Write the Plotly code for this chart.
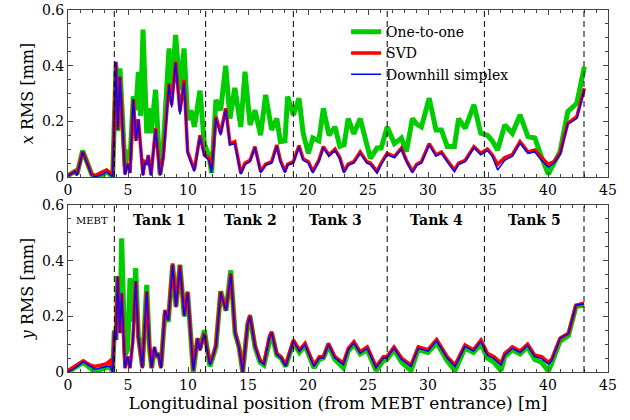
import plotly.graph_objects as go

# ---------------- data ----------------
x_top = [0.0, 0.58, 0.75, 1.22, 1.97, 2.25, 2.97, 3.22, 3.5, 3.72,
         4.0, 4.14, 4.33, 4.75, 4.97, 5.17, 5.44, 5.67, 5.86, 6.05,
         6.25, 6.4, 6.56, 6.69, 6.92, 7.3, 7.67, 7.94, 8.42, 8.64,
         8.97, 9.33, 9.67, 9.97, 10.25, 10.53, 11.0, 11.36, 11.75, 11.97,
         12.33, 12.72, 13.14, 13.5, 13.9, 14.4, 14.75, 15.17, 15.58, 16.05,
         16.47, 16.97, 17.4, 17.7, 18.08, 18.3, 18.78, 19.25, 19.6, 20.03,
         20.4, 20.9, 21.28, 21.75, 22.25, 22.65, 23.0, 23.35, 23.82, 24.35,
         24.9, 25.2, 25.75, 26.1, 26.6, 27.2, 27.78, 28.2, 28.7, 29.06,
         29.45, 30.1, 30.67, 31.12, 31.6, 32.2, 32.55, 33.1, 33.83, 34.4,
         34.95, 35.35, 35.8, 36.4, 37.03, 37.67, 38.33, 38.9, 39.45, 40.03,
         40.5, 41.0, 41.65, 42.4, 43.03]
one_top = [0.005, 0.02, 0.01, 0.095, 0.01, 0.0, 0.01, 0.02, 0.01, 0.0,
           0.40, 0.165, 0.39, 0.037, 0.097, 0.06, 0.29, 0.24, 0.378, 0.22,
           0.53, 0.30, 0.157, 0.247, 0.157, 0.313, 0.01, 0.109, 0.462, 0.313,
           0.51, 0.313, 0.462, 0.205, 0.24, 0.18, 0.31, 0.12, 0.075, 0.014,
           0.277, 0.24, 0.40, 0.21, 0.32, 0.18, 0.378, 0.187, 0.24, 0.15,
           0.295, 0.169, 0.21, 0.127, 0.13, 0.289, 0.223, 0.283, 0.157, 0.085,
           0.14, 0.13, 0.247, 0.15, 0.18, 0.11, 0.115, 0.21, 0.155, 0.21,
           0.12, 0.067, 0.104, 0.104, 0.18, 0.12, 0.14, 0.091, 0.21, 0.19,
           0.18, 0.283, 0.169, 0.169, 0.11, 0.11, 0.21, 0.175, 0.259, 0.157,
           0.15, 0.13, 0.097, 0.187, 0.157, 0.223, 0.145, 0.14, 0.073, 0.01,
           0.05, 0.09, 0.235, 0.265, 0.396]
svd_top = [0.005, 0.02, 0.01, 0.092, 0.01, 0.005, 0.02, 0.025, 0.015, 0.005,
           0.414, 0.17, 0.36, 0.01, 0.05, 0.015, 0.28, 0.13, 0.208, 0.10,
           0.007, 0.055, 0.05, 0.079, 0.007, 0.175, 0.007, 0.073, 0.337, 0.259,
           0.414, 0.235, 0.349, 0.091, 0.061, 0.025, 0.15, 0.079, 0.067, 0.03,
           0.217, 0.157, 0.247, 0.12, 0.127, 0.014, 0.05, 0.06, 0.109, 0.02,
           0.046, 0.055, 0.115, 0.06, 0.02, 0.046, 0.055, 0.113, 0.065, 0.055,
           0.02, 0.06, 0.109, 0.079, 0.10, 0.07, 0.02, 0.046, 0.055, 0.09,
           0.055, 0.05, 0.02, 0.05, 0.085, 0.073, 0.104, 0.06, 0.02, 0.046,
           0.055, 0.12, 0.079, 0.09, 0.06, 0.025, 0.05, 0.06, 0.109, 0.085,
           0.10, 0.08, 0.045, 0.07, 0.08, 0.127, 0.09, 0.097, 0.07, 0.046,
           0.055, 0.085, 0.193, 0.217, 0.319]
dhs_top = [0.003, 0.02, 0.005, 0.09, 0.008, 0.0, 0.01, 0.02, 0.008, 0.0,
           0.414, 0.17, 0.36, 0.007, 0.045, 0.014, 0.28, 0.13, 0.205, 0.09,
           0.005, 0.05, 0.045, 0.075, 0.005, 0.17, 0.005, 0.07, 0.33, 0.25,
           0.41, 0.225, 0.34, 0.085, 0.055, 0.02, 0.145, 0.075, 0.06, 0.015,
           0.21, 0.15, 0.24, 0.115, 0.12, 0.01, 0.045, 0.055, 0.105, 0.015,
           0.042, 0.05, 0.11, 0.055, 0.015, 0.042, 0.05, 0.108, 0.06, 0.05,
           0.015, 0.055, 0.105, 0.075, 0.095, 0.065, 0.015, 0.042, 0.05, 0.085,
           0.05, 0.045, 0.015, 0.045, 0.08, 0.07, 0.10, 0.055, 0.015, 0.042,
           0.05, 0.115, 0.075, 0.085, 0.055, 0.02, 0.045, 0.055, 0.105, 0.08,
           0.095, 0.075, 0.025, 0.06, 0.075, 0.122, 0.085, 0.09, 0.06, 0.035,
           0.05, 0.08, 0.19, 0.21, 0.315]

x_bot = [0.0, 0.58, 0.8, 1.28, 1.83, 2.25, 2.8, 3.22, 3.5, 3.72,
         3.86, 4.0, 4.14, 4.33, 4.47, 4.75, 4.97, 5.17, 5.4, 5.64,
         5.86, 6.2, 6.56, 6.78, 6.97, 7.2, 7.39, 7.53, 7.75, 8.08,
         8.36, 8.72, 9.0, 9.33, 9.69, 9.97, 10.44, 10.8, 11.0, 11.36,
         11.83, 12.05, 12.33, 12.72, 13.17, 13.56, 13.92, 14.25, 14.56, 14.97,
         15.17, 15.58, 16.0, 16.33, 16.78, 16.97, 17.4, 17.75, 18.14, 18.78,
         19.28, 19.75, 20.5, 20.94, 21.28, 21.7, 22.25, 22.94, 23.36, 23.83,
         24.35, 24.94, 25.67, 26.28, 26.56, 27.17, 27.8, 28.58, 29.19, 30.0,
         30.72, 31.6, 32.25, 33.08, 33.78, 34.42, 34.95, 35.5, 36.08, 36.4,
         37.03, 37.67, 38.3, 38.9, 39.47, 40.03, 40.3, 41.0, 41.7, 42.33,
         43.0]
one_bot = [0.0, 0.015, 0.02, 0.035, 0.015, 0.0, 0.01, 0.015, 0.02, 0.0,
           0.15, 0.115, 0.345, 0.14, 0.48, 0.06, 0.08, 0.337, 0.18, 0.373,
           0.13, 0.02, 0.313, 0.09, 0.014, 0.08, 0.05, 0.07, 0.02, 0.21,
           0.18, 0.385, 0.235, 0.385, 0.20, 0.285, 0.0, 0.12, 0.085, 0.15,
           0.02, 0.05, 0.09, 0.29, 0.22, 0.365, 0.14, 0.09, 0.0, 0.17,
           0.20, 0.09, 0.035, 0.025, 0.12, 0.14, 0.06, 0.05, 0.02, 0.105,
           0.07, 0.095, 0.015, 0.045, 0.05, 0.095, 0.045, 0.015, 0.075, 0.10,
           0.065, 0.08, 0.005, 0.04, 0.045, 0.08, 0.035, 0.005, 0.08, 0.07,
           0.105, 0.04, 0.005, 0.085, 0.07, 0.10, 0.05, 0.035, 0.005, 0.055,
           0.08, 0.065, 0.09, 0.045, 0.035, 0.003, 0.03, 0.11, 0.13, 0.235,
           0.24]
svd_bot = [0.005, 0.02, 0.025, 0.04, 0.025, 0.02, 0.025, 0.03, 0.04, 0.005,
           0.145, 0.115, 0.343, 0.14, 0.283, 0.014, 0.055, 0.014, 0.109, 0.327,
           0.127, 0.014, 0.289, 0.097, 0.014, 0.09, 0.055, 0.065, 0.014, 0.223,
           0.187, 0.39, 0.235, 0.385, 0.205, 0.289, 0.007, 0.122, 0.079, 0.14,
           0.03, 0.055, 0.097, 0.289, 0.223, 0.355, 0.145, 0.091, 0.0, 0.175,
           0.205, 0.097, 0.043, 0.032, 0.127, 0.145, 0.067, 0.055, 0.025, 0.115,
           0.079, 0.103, 0.025, 0.055, 0.055, 0.103, 0.055, 0.032, 0.085, 0.109,
           0.073, 0.09, 0.02, 0.055, 0.055, 0.09, 0.05, 0.025, 0.09, 0.08,
           0.117, 0.055, 0.025, 0.097, 0.08, 0.115, 0.067, 0.055, 0.032, 0.067,
           0.09, 0.075, 0.10, 0.06, 0.055, 0.035, 0.045, 0.121, 0.139, 0.24,
           0.247]
dhs_bot = [0.0, 0.015, 0.02, 0.037, 0.02, 0.01, 0.015, 0.02, 0.02, 0.0,
           0.145, 0.115, 0.343, 0.14, 0.283, 0.014, 0.055, 0.014, 0.109, 0.327,
           0.127, 0.014, 0.289, 0.097, 0.014, 0.09, 0.055, 0.065, 0.014, 0.22,
           0.185, 0.385, 0.232, 0.38, 0.2, 0.285, 0.005, 0.12, 0.077, 0.137,
           0.025, 0.05, 0.093, 0.285, 0.22, 0.35, 0.14, 0.087, 0.0, 0.17,
           0.2, 0.093, 0.038, 0.028, 0.123, 0.14, 0.062, 0.05, 0.02, 0.11,
           0.075, 0.098, 0.02, 0.05, 0.05, 0.098, 0.05, 0.027, 0.08, 0.104,
           0.068, 0.085, 0.015, 0.05, 0.05, 0.085, 0.045, 0.02, 0.085, 0.075,
           0.112, 0.05, 0.02, 0.092, 0.075, 0.11, 0.06, 0.048, 0.025, 0.06,
           0.085, 0.07, 0.095, 0.055, 0.048, 0.028, 0.04, 0.12, 0.138, 0.24,
           0.245]

section_edges = [3.86, 11.47, 18.78, 26.6, 34.7, 43.0]
section_names = ["MEBT", "Tank 1", "Tank 2", "Tank 3", "Tank 4", "Tank 5"]
section_centers = [1.97, 7.64, 15.2, 22.3, 30.7, 38.9]

series_names = ["One-to-one", "SVD", "Downhill simplex"]
series_colors = ["#00cc00", "#ff0000", "#0000ff"]
series_widths = [5, 3.5, 1.5]

# ---------------- figure ----------------
FONT = "DejaVu Serif"
fig = go.Figure()

top = [one_top, svd_top, dhs_top]
bot = [one_bot, svd_bot, dhs_bot]
for i in range(3):
    fig.add_trace(go.Scatter(x=x_top, y=top[i], mode="lines", name=series_names[i],
                             line=dict(color=series_colors[i], width=series_widths[i]),
                             xaxis="x", yaxis="y", showlegend=True))
for i in range(3):
    fig.add_trace(go.Scatter(x=x_bot, y=bot[i], mode="lines", name=series_names[i],
                             line=dict(color=series_colors[i], width=series_widths[i]),
                             xaxis="x2", yaxis="y2", showlegend=False))

shapes = []
for xe in section_edges:
    for yr, xr in (("y domain", "x"), ("y2 domain", "x2")):
        shapes.append(dict(type="line", xref=xr, yref=yr, x0=xe, x1=xe, y0=0, y1=1,
                           line=dict(color="black", width=1, dash="6px,4px"), layer="above"))

annotations = []
for name, xc in zip(section_names, section_centers):
    if name == "MEBT":
        annotations.append(dict(x=xc, y=0.546, xref="x2", yref="y2", text="MEBT",
                                showarrow=False, font=dict(family=FONT, size=10, color="black")))
    else:
        annotations.append(dict(x=xc, y=0.546, xref="x2", yref="y2", text="<b>" + name + "</b>",
                                showarrow=False, font=dict(family=FONT, size=14, color="black")))

axis_common = dict(range=[0, 45], showline=True, linecolor="#444", linewidth=1, mirror="ticks",
                   ticks="inside", ticklen=5, tickcolor="#444", dtick=5, tick0=0,
                   minor=dict(ticks="inside", ticklen=3, dtick=1, tickcolor="#444"),
                   showgrid=False, zeroline=False, automargin=False,
                   tickfont=dict(family=FONT, size=14, color="black"))
yaxis_common = dict(range=[0, 0.6], showline=True, linecolor="#444", linewidth=1, mirror="ticks",
                    ticks="inside", ticklen=5, tickcolor="#444", dtick=0.2, tick0=0,
                    minor=dict(ticks="inside", ticklen=3, dtick=0.05, tickcolor="#444"),
                    showgrid=False, zeroline=False, automargin=False,
                    tickfont=dict(family=FONT, size=14, color="black"))

fig.update_layout(
    width=630, height=420,
    margin=dict(l=68, r=22, t=10, b=48, autoexpand=False),
    paper_bgcolor="white", plot_bgcolor="white",
    xaxis=dict(axis_common, anchor="y", domain=[0, 1]),
    yaxis=dict(yaxis_common, anchor="x", domain=[0.5387, 1],
               title=dict(text="<i>x</i> RMS [mm]", font=dict(family=FONT, size=16, color="black"), standoff=4)),
    xaxis2=dict(axis_common, anchor="y2", domain=[0, 1],
                title=dict(text="Longitudinal position (from MEBT entrance) [m]",
                           font=dict(family=FONT, size=17, color="black"), standoff=0)),
    yaxis2=dict(yaxis_common, anchor="x2", domain=[0, 0.4613],
                title=dict(text="<i>y</i> RMS [mm]", font=dict(family=FONT, size=16, color="black"), standoff=4)),
    shapes=shapes, annotations=annotations,
    legend=dict(x=0.515, y=0.983, xanchor="left", yanchor="top",
                bgcolor="rgba(0,0,0,0)", font=dict(family=FONT, size=14, color="black"),
                tracegroupgap=0, itemwidth=30),
    showlegend=True,
)

# remove the browser's default 8px page margin so the 630x420 figure fills the window
fig.write_html("out.html", config={"displayModeBar": False},
               post_script="document.body.style.margin='0';")
